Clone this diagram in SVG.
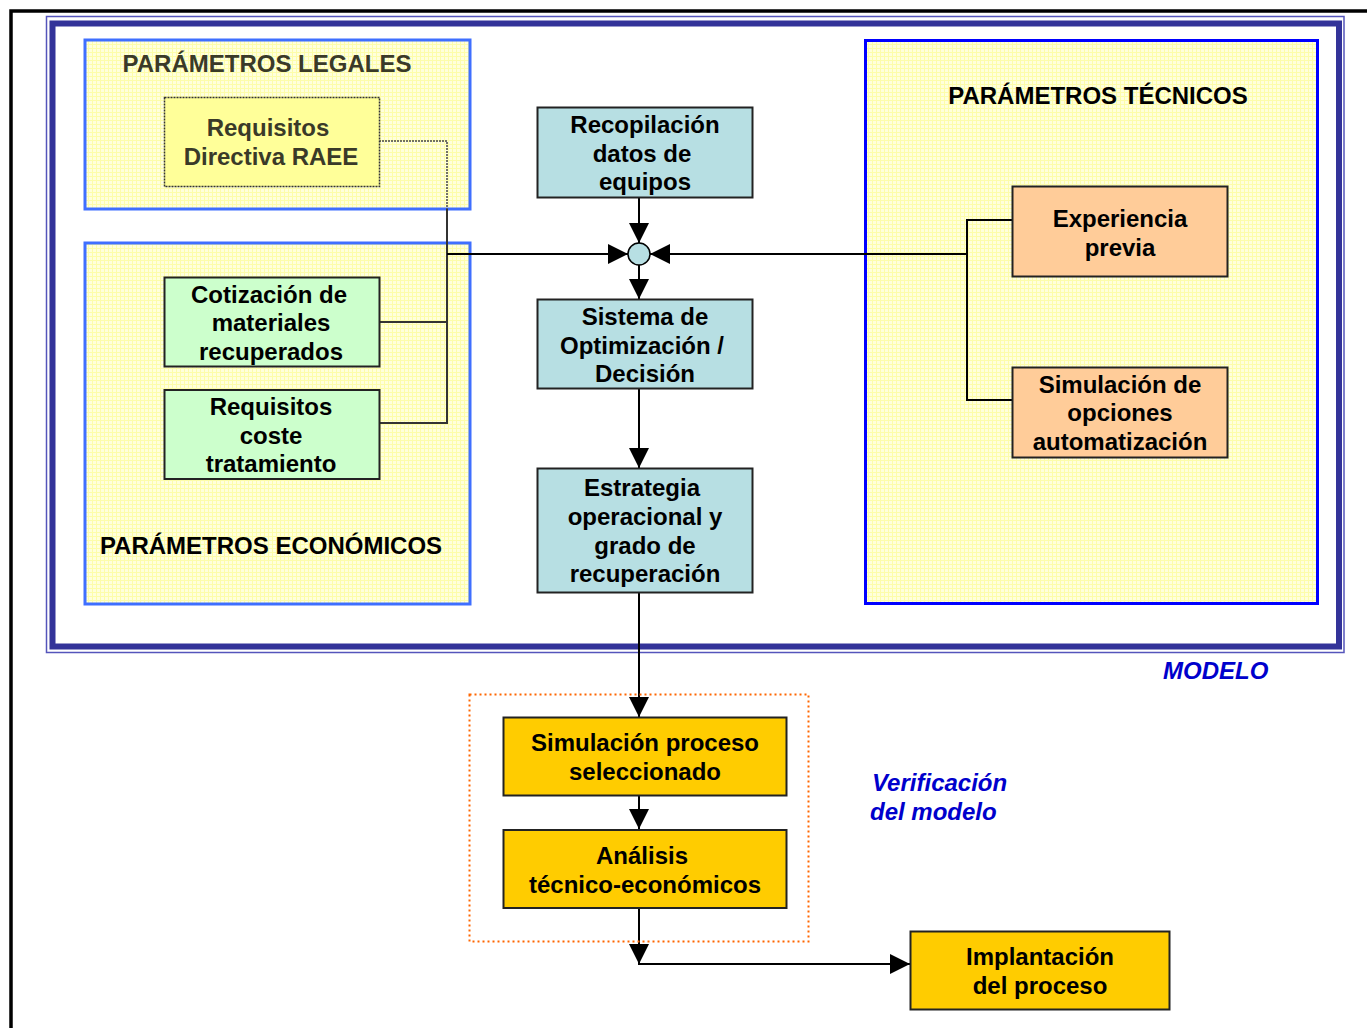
<svg xmlns="http://www.w3.org/2000/svg" width="1367" height="1028" viewBox="0 0 1367 1028">
<style>
text{font-family:"Liberation Sans",Arial,sans-serif;font-weight:bold;font-size:24px;fill:#000;text-anchor:middle}
.legal{fill:#3a3a28}
.blue{fill:#0000cc;font-style:italic;text-anchor:start}
.node{stroke:#222;stroke-width:2}
.teal{fill:#b7dfe3}
.green{fill:#ccffcc}
.orange{fill:#ffcc99}
.gold{fill:#ffcc00}
.conn{stroke:#000;stroke-width:2;fill:none}
.gconn{stroke:#333;stroke-width:2;fill:none}
.panel{fill:url(#grid);stroke-width:3}
</style>
<defs>
<pattern id="grid" width="4" height="4" patternUnits="userSpaceOnUse">
<rect width="4" height="4" fill="#ffffdc"/>
<path d="M0,0.5H4M0.5,0V4" stroke="#fdfdaa" stroke-width="1"/>
</pattern>
<marker id="arr" markerUnits="userSpaceOnUse" markerWidth="20" markerHeight="20" viewBox="0 0 18 18" refX="18" refY="9" orient="auto">
<path d="M0,0L18,9L0,18z" fill="#000"/>
</marker>
</defs>
<rect width="1367" height="1028" fill="#fff"/>
<path d="M11,1028V11H1367" fill="none" stroke="#000" stroke-width="3.5"/>
<g id="modelo-frame">
<rect x="46.5" y="16.5" width="1297.5" height="636" fill="none" stroke="#5555bb" stroke-width="1.5"/>
<rect x="52.5" y="23.5" width="1286.5" height="623" fill="none" stroke="#333399" stroke-width="6"/>
</g>
<g id="panel-legales">
<rect class="panel" x="85" y="40" width="385" height="169" stroke="#3f6fff"/>
<text class="legal" x="267" y="72">PARÁMETROS LEGALES</text>
</g>
<g id="panel-economicos">
<rect class="panel" x="85" y="243" width="385" height="361" stroke="#3f6fff"/>
<text x="271" y="554">PARÁMETROS ECONÓMICOS</text>
</g>
<g id="panel-tecnicos">
<rect class="panel" x="865.5" y="40.5" width="452" height="563" stroke="#0000ff"/>
<text x="1098" y="104">PARÁMETROS TÉCNICOS</text>
</g>
<g id="connectors">
<path d="M379,141H447V209" stroke="#444" stroke-width="1.5" stroke-dasharray="2,1" fill="none"/>
<path class="gconn" d="M447,209V423H379M379,322H447"/>
<path class="conn" d="M447,254H628" marker-end="url(#arr)"/>
<path class="conn" d="M639,197V243" marker-end="url(#arr)"/>
<path class="conn" d="M639,265V299" marker-end="url(#arr)"/>
<path class="conn" d="M967,254H650" marker-end="url(#arr)"/>
<path class="conn" d="M1012,220H967V400H1012" stroke-width="1.5"/>
<path class="conn" d="M639,389V468" marker-end="url(#arr)"/>
<path class="conn" d="M639,592V717" marker-end="url(#arr)"/>
<path class="conn" d="M639,796V829" marker-end="url(#arr)"/>
<path class="conn" d="M639,908V964" marker-end="url(#arr)"/>
<path class="conn" d="M638,964H910" marker-end="url(#arr)"/>
</g>
<g id="n-raee">
<rect x="164.5" y="97.5" width="215" height="89" fill="#ffff99" stroke="#333" stroke-width="1.5" stroke-dasharray="2,1"/>
<text class="legal" x="268" y="135.5">Requisitos</text>
<text class="legal" x="271" y="164.5">Directiva RAEE</text>
</g>
<g id="n-cotizacion">
<rect class="node green" x="164.5" y="277.5" width="215" height="89"/>
<text x="269" y="302.5">Cotización de</text>
<text x="271" y="330.5">materiales</text>
<text x="271" y="359.5">recuperados</text>
</g>
<g id="n-coste">
<rect class="node green" x="164.5" y="390" width="215" height="89"/>
<text x="271" y="414.5">Requisitos</text>
<text x="271" y="443.5">coste</text>
<text x="271" y="471.5">tratamiento</text>
</g>
<g id="n-recopilacion">
<rect class="node teal" x="537.5" y="107.5" width="215" height="90"/>
<text x="645" y="132.5">Recopilación</text>
<text x="642" y="161.5">datos de</text>
<text x="645" y="189.5">equipos</text>
</g>
<g id="n-junction">
<circle cx="639" cy="254" r="11" fill="#b7dfe3" stroke="#000" stroke-width="1.5"/>
</g>
<g id="n-sistema">
<rect class="node teal" x="537.5" y="299.5" width="215" height="89"/>
<text x="645" y="324.5">Sistema de</text>
<text x="642" y="353.5">Optimización /</text>
<text x="645" y="381.5">Decisión</text>
</g>
<g id="n-estrategia">
<rect class="node teal" x="537.5" y="468.5" width="215" height="124"/>
<text x="642" y="495.5">Estrategia</text>
<text x="645" y="524.5">operacional y</text>
<text x="645" y="553.5">grado de</text>
<text x="645" y="581.5">recuperación</text>
</g>
<g id="n-experiencia">
<rect class="node orange" x="1012.5" y="186.5" width="215" height="90"/>
<text x="1120" y="226.5">Experiencia</text>
<text x="1120" y="255.5">previa</text>
</g>
<g id="n-opciones">
<rect class="node orange" x="1012.5" y="367.5" width="215" height="90"/>
<text x="1120" y="392.5">Simulación de</text>
<text x="1120" y="420.5">opciones</text>
<text x="1120" y="449.5">automatización</text>
</g>
<text class="blue" x="1163" y="679">MODELO</text>
<g id="verificacion">
<rect x="469.5" y="694.5" width="339" height="247" fill="none" stroke="#ff6600" stroke-width="2" stroke-dasharray="2,3"/>
<text class="blue" x="872" y="791">Verificación</text>
<text class="blue" x="870" y="820">del modelo</text>
</g>
<g id="n-simulacion">
<rect class="node gold" x="503.5" y="717.5" width="283" height="78"/>
<text x="645" y="750.5">Simulación proceso</text>
<text x="645" y="779.5">seleccionado</text>
</g>
<g id="n-analisis">
<rect class="node gold" x="503.5" y="830" width="283" height="78"/>
<text x="642" y="863.5">Análisis</text>
<text x="645" y="892.5">técnico-económicos</text>
</g>
<g id="n-implantacion">
<rect class="node gold" x="910.5" y="931.5" width="259" height="78"/>
<text x="1040" y="964.5">Implantación</text>
<text x="1040" y="993.5">del proceso</text>
</g>
</svg>
